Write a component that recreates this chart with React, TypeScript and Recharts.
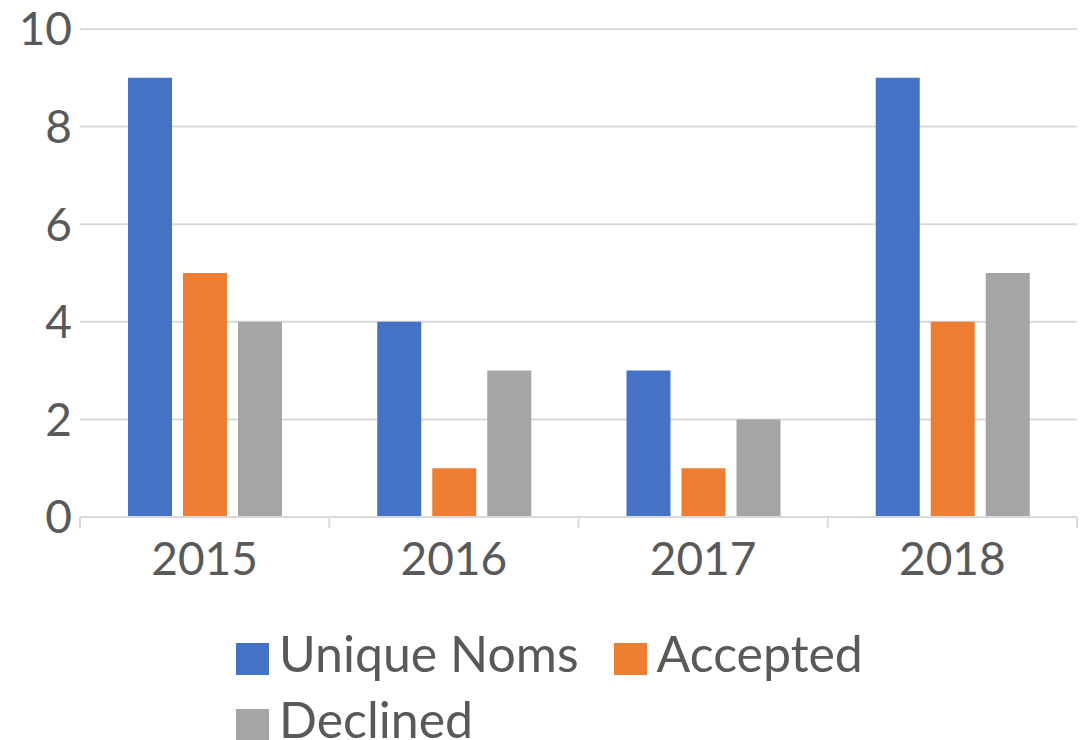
import { BarChart, Bar, XAxis, YAxis, CartesianGrid } from 'recharts';

const years = ['2015', '2016', '2017', '2018'];
const uniqueNoms = [9, 4, 3, 9];
const accepted = [5, 1, 1, 4];
const declined = [4, 3, 2, 5];
const yTicks = [0, 2, 4, 6, 8, 10];

const seriesList = [
  { key: 'uniqueNoms', name: 'Unique Noms', color: '#4472C4' },
  { key: 'accepted', name: 'Accepted', color: '#ED7D31' },
  { key: 'declined', name: 'Declined', color: '#A5A5A5' },
];

const data = years.map((year, i) => ({
  year,
  uniqueNoms: uniqueNoms[i],
  accepted: accepted[i],
  declined: declined[i],
}));

const FONT = 'Lato, "Open Sans", sans-serif';
const TEXT = '#595959';
const GRID = '#d9d9d9';
const BAND = (1083 - 80 - 6) / years.length;

// x tick: label plus the little boundary marks Excel draws between categories
function YearTick(props: any) {
  const { x, y, payload, index } = props;
  const left = x - BAND / 2;
  const right = x + BAND / 2;
  return (
    <g>
      <line x1={left} x2={left} y1={y} y2={y + 11} stroke={GRID} strokeWidth={2} />
      {index === years.length - 1 && (
        <line x1={right} x2={right} y1={y} y2={y + 11} stroke={GRID} strokeWidth={2} />
      )}
      <text x={x} y={y + 58} textAnchor="middle" fill={TEXT} fontSize={46} fontFamily={FONT}>
        {payload.value}
      </text>
    </g>
  );
}

export default function App() {
  return (
    <div style={{ position: 'absolute', left: 0, top: 0, width: 1083, height: 740, background: '#fff', overflow: 'hidden' }}>
      <BarChart
        width={1083}
        height={740}
        data={data}
        margin={{ top: 29, right: 6, left: 0, bottom: 143 }}
        barCategoryGap={48}
        barGap={11}
      >
        <CartesianGrid vertical={false} stroke={GRID} strokeWidth={2} />
        <XAxis
          dataKey="year"
          height={80}
          axisLine={{ stroke: GRID, strokeWidth: 2 }}
          tickLine={false}
          tickSize={0}
          tickMargin={0}
          tick={<YearTick />}
        />
        <YAxis
          width={80}
          domain={[0, 10]}
          ticks={yTicks}
          axisLine={false}
          tickLine={false}
          tick={{ fill: TEXT, fontSize: 46, fontFamily: FONT }}
        />
        {seriesList.map((s) => (
          <Bar key={s.key} dataKey={s.key} name={s.name} fill={s.color} isAnimationActive={false} />
        ))}
      </BarChart>

      {/* legend, wraps onto a second row like the original */}
      <div
        style={{
          position: 'absolute',
          left: 236,
          top: 620,
          width: 640,
          display: 'flex',
          flexWrap: 'wrap',
          columnGap: 35,
          fontFamily: FONT,
          fontSize: 50,
          color: TEXT,
          lineHeight: '66px',
        }}
      >
        {seriesList.map((s) => (
          <div key={s.key} style={{ display: 'flex', alignItems: 'center', whiteSpace: 'nowrap' }}>
            <span
              style={{
                width: 33,
                height: 32,
                background: s.color,
                marginRight: 10,
                display: 'inline-block',
                position: 'relative',
                top: 6,
              }}
            />
            <span>{s.name}</span>
          </div>
        ))}
      </div>
    </div>
  );
}
